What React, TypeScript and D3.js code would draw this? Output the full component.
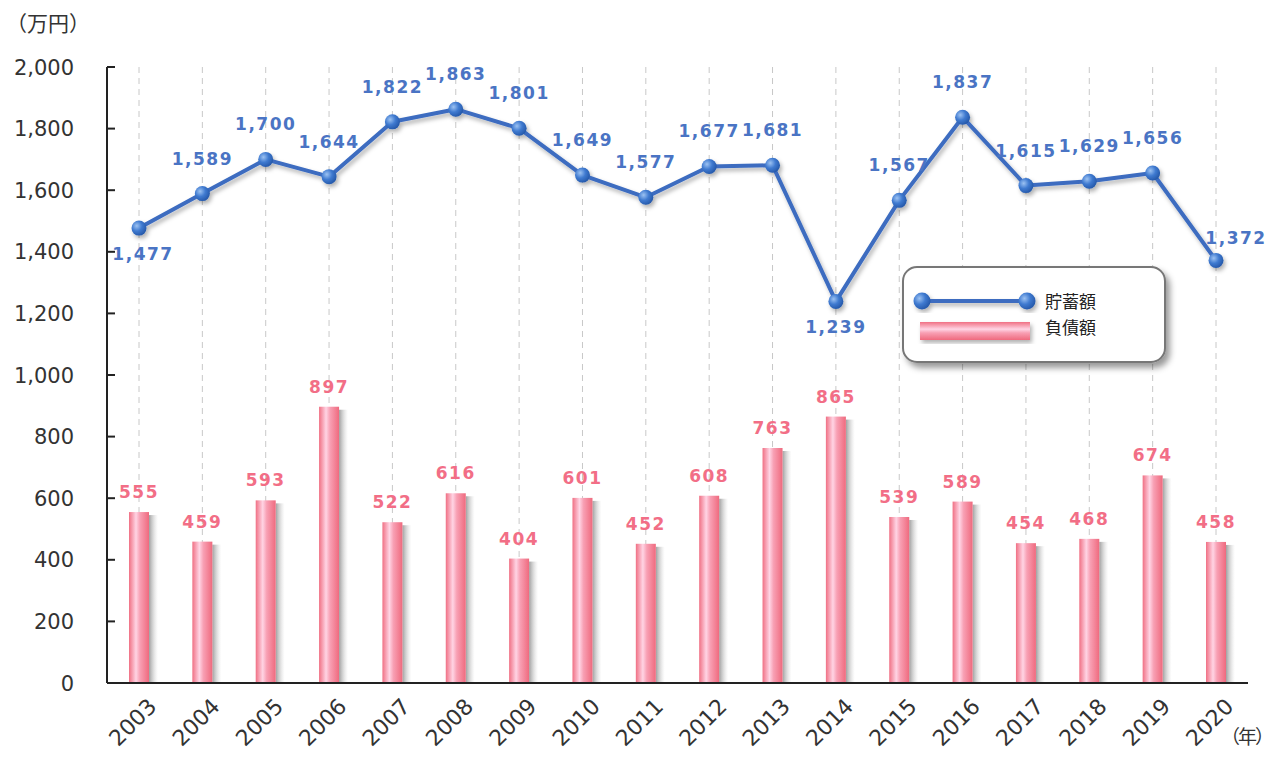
import React from "react";
import * as d3 from "d3";

const years = ["2003","2004","2005","2006","2007","2008","2009","2010","2011","2012","2013","2014","2015","2016","2017","2018","2019","2020"];
const savings = [1477,1589,1700,1644,1822,1863,1801,1649,1577,1677,1681,1239,1567,1837,1615,1629,1656,1372];
const debt = [555,459,593,897,522,616,404,601,452,608,763,865,539,589,454,468,674,458];
const savingsLabelPlace = ["below","above","above","above","above","above","above","above","above","above","above","below","above","above","above","above","above","right"];
const yTicks = [0,200,400,600,800,1000,1200,1400,1600,1800,2000];
const seriesNames = ["貯蓄額","負債額"];

const W = 1277, H = 758;
const left = 107, right = 1248, top = 67, bottom = 683;

export default function App() {
  const y = d3.scaleLinear().domain([0, 2000]).range([bottom, top]);
  const x = d3.scalePoint<string>().domain(years).range([139, 1216]);
  const fmt = d3.format(",");
  const line = d3.line<number>().x((_, i) => x(years[i])!).y(d => y(d));
  const barW = 20;
  const blue = "#3c6cc0";
  const labelBlue = "#4a74c4";
  const pink = "#f26e86";

  return (
    <svg width={W} height={H} style={{ display: "block", position: "absolute", left: 0, top: 0 }} fontFamily="'DejaVu Sans', sans-serif">
      <defs>
        <linearGradient id="barG" x1="0" x2="1" y1="0" y2="0">
          <stop offset="0" stopColor="#f07084" />
          <stop offset="0.35" stopColor="#ffd4e4" />
          <stop offset="0.55" stopColor="#f8a0b4" />
          <stop offset="1" stopColor="#ef6a7e" />
        </linearGradient>
        <linearGradient id="shadowG" x1="0" x2="1" y1="0" y2="0">
          <stop offset="0" stopColor="#888" stopOpacity="0.8" />
          <stop offset="1" stopColor="#ccc" stopOpacity="0" />
        </linearGradient>
        <linearGradient id="legBarG" x1="0" x2="0" y1="0" y2="1">
          <stop offset="0" stopColor="#f07084" />
          <stop offset="0.4" stopColor="#ffd4e4" />
          <stop offset="0.6" stopColor="#f8a0b4" />
          <stop offset="1" stopColor="#ef6a7e" />
        </linearGradient>
        <radialGradient id="dotG" cx="0.35" cy="0.35" r="0.7">
          <stop offset="0" stopColor="#9cc2f2" />
          <stop offset="0.5" stopColor="#3f7ad0" />
          <stop offset="1" stopColor="#2457a8" />
        </radialGradient>
        <filter id="lineShadow" x="-10%" y="-10%" width="120%" height="130%">
          <feDropShadow dx="2" dy="3" stdDeviation="2" floodColor="#000" floodOpacity="0.3" />
        </filter>
        <filter id="boxShadow" x="-10%" y="-10%" width="125%" height="135%">
          <feDropShadow dx="4" dy="5" stdDeviation="3" floodColor="#000" floodOpacity="0.4" />
        </filter>
      </defs>

      {/* unit label */}
      <text x={6} y={31} fontSize={21} fill="#333" fontFamily="'Noto Sans CJK JP', sans-serif">（万円）</text>

      {/* gridlines */}
      {years.map(yr => (
        <line key={yr} x1={x(yr)} x2={x(yr)} y1={top} y2={bottom} stroke="#c8c8c8" strokeDasharray="6,5" strokeWidth={1} />
      ))}

      {/* y axis */}
      <line x1={left} x2={left} y1={top} y2={bottom} stroke="#222" strokeWidth={2} />
      {yTicks.map(t => (
        <g key={t}>
          <line x1={left} x2={left + 8} y1={y(t)} y2={y(t)} stroke="#222" strokeWidth={2} />
          <text x={74} y={y(t)} dy="0.36em" textAnchor="end" fontSize={21} fill="#333">{fmt(t)}</text>
        </g>
      ))}

      {/* bars */}
      {debt.map((v, i) => {
        const cx = x(years[i])!;
        return (
          <g key={i}>
            <rect x={cx + barW / 2} y={y(v) + 3} width={9} height={bottom - y(v) - 3} fill="url(#shadowG)" />
            <rect x={cx - barW / 2} y={y(v)} width={barW} height={bottom - y(v)} fill="url(#barG)" />
            <text x={cx} y={y(v) - 14} textAnchor="middle" fontSize={17} fontWeight="bold" fill={pink} letterSpacing={1.5}>{fmt(v)}</text>
          </g>
        );
      })}

      {/* x axis */}
      <line x1={left} x2={right} y1={bottom} y2={bottom} stroke="#222" strokeWidth={2} />
      {years.map(yr => (
        <text key={yr} transform={`translate(${x(yr)! + 8},${bottom + 14}) rotate(-45)`} textAnchor="end" dy="0.7em" fontSize={22} fill="#333">{yr}</text>
      ))}
      <text x={1221} y={744} fontSize={19} letterSpacing={-2} fill="#333" fontFamily="'Noto Sans CJK JP', sans-serif">（年）</text>

      {/* savings line */}
      <g filter="url(#lineShadow)">
        <path d={line(savings) || ""} fill="none" stroke={blue} strokeWidth={4} strokeLinejoin="round" />
        {savings.map((v, i) => (
          <circle key={i} cx={x(years[i])} cy={y(v)} r={7.5} fill="url(#dotG)" />
        ))}
      </g>
      {savings.map((v, i) => {
        const cx = x(years[i])!;
        const cy = y(v);
        const p = savingsLabelPlace[i];
        const lx = p === "right" ? cx + 20 : p === "below" ? cx + (i === 0 ? 4 : 0) : cx;
        const ly = p === "below" ? cy + 32 : p === "right" ? cy - 16 : cy - 29;
        return (
          <text key={i} x={lx} y={ly} textAnchor="middle" fontSize={17} fontWeight="bold" fill={labelBlue} letterSpacing={1.5}>{fmt(v)}</text>
        );
      })}

      {/* legend */}
      <rect x={903} y={267} width={262} height={95} rx={14} fill="#fff" stroke="#777" strokeWidth={2} filter="url(#boxShadow)" />
      <g filter="url(#lineShadow)">
        <line x1={922} x2={1027} y1={301} y2={301} stroke={blue} strokeWidth={4} />
        <circle cx={922} cy={301} r={8.5} fill="url(#dotG)" />
        <circle cx={1027} cy={301} r={8.5} fill="url(#dotG)" />
      </g>
      <rect x={920} y={322} width={110} height={18} fill="url(#legBarG)" filter="url(#lineShadow)" />
      <text x={1045} y={308} fontSize={17} fill="#222" fontFamily="'Noto Sans CJK JP', sans-serif">{seriesNames[0]}</text>
      <text x={1045} y={334} fontSize={17} fill="#222" fontFamily="'Noto Sans CJK JP', sans-serif">{seriesNames[1]}</text>
    </svg>
  );
}
